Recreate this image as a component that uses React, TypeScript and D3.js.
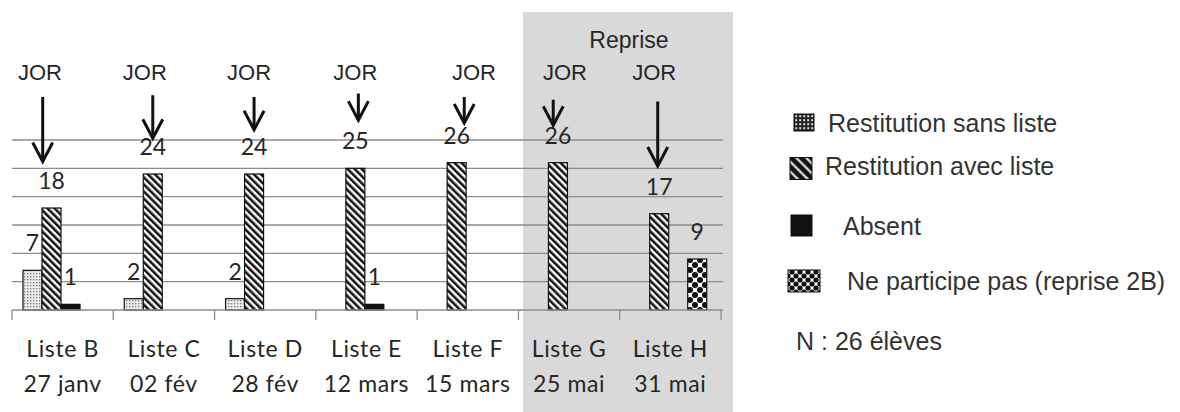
import React from 'react';
import * as d3 from 'd3';

const categories = ['Liste B', 'Liste C', 'Liste D', 'Liste E', 'Liste F', 'Liste G', 'Liste H'];
const dates = ['27 janv', '02 fév', '28 fév', '12 mars', '15 mars', '25 mai', '31 mai'];
const seriesKeys = ['sans', 'avec', 'absent', 'nepart'];
const seriesNames = ['Restitution sans liste', 'Restitution avec liste', 'Absent', 'Ne participe pas (reprise 2B)'];
const sansListe = [7, 2, 2, 0, 0, 0, 0];
const avecListe = [18, 24, 24, 25, 26, 26, 17];
const absent = [1, 0, 0, 1, 0, 0, 0];
const neParticipe = [0, 0, 0, 0, 0, 0, 9];
const yTicks = [5, 10, 15, 20, 25, 30];
// "JOR" annotation arrows, in data units (start of shaft, tip of arrow)
const arrowFrom = [37.6, 37.9, 37.6, 38.2, 37.6, 37.1, 36.8];
const arrowTo = [26.2, 30.3, 31.8, 33.5, 33.0, 32.6, 25.4];
const repriseCats = ['Liste G', 'Liste H'];
const noteText = 'N : 26 élèves';

// annotation offsets (px) relative to the "avec liste" bar centre
const arrowDx = [-8.8, 0, 0, 3, 7.6, -4.7, -1.5];
const jorDx = [-11.5, -8, -5, 0, 17.3, 7, -5];

const W = 1180;
const H = 412;
const LEFT = 12;
const RIGHT = 721;
const BASE = 310;
const TOP30 = 140;

const labelFont = 'Lato, "Open Sans", sans-serif';
const arialFont = '"Liberation Sans", Arial, sans-serif';

export default function App() {
  const x = d3.scaleBand<string>().domain(categories).range([LEFT, RIGHT]).paddingInner(0).paddingOuter(0);
  const step = x.step();
  const x1 = d3.scaleBand<string>().domain(seriesKeys).range([11, 87]).paddingInner(0);
  const y = d3.scaleLinear().domain([0, 30]).range([BASE, TOP30]);
  const bw = x1.bandwidth();

  const values: Record<string, number[]> = {
    sans: sansListe,
    avec: avecListe,
    absent: absent,
    nepart: neParticipe,
  };
  const fills: Record<string, string> = {
    sans: 'url(#dots)',
    avec: 'url(#hatch)',
    absent: '#111',
    nepart: 'url(#rings)',
  };

  const gx0 = (x(repriseCats[0]) as number) + 4.5;
  const gx1 = (x(repriseCats[1]) as number) + step + 12;

  const bars: JSX.Element[] = [];
  const labels: JSX.Element[] = [];
  categories.forEach((c, i) => {
    seriesKeys.forEach((k) => {
      const v = values[k][i];
      if (!v) return;
      const bx = (x(c) as number) + (x1(k) as number);
      const top = y(v);
      bars.push(
        <rect key={`b-${c}-${k}`} x={bx} y={top} width={bw} height={BASE - top}
          fill={fills[k]} stroke="#111" strokeWidth={1.2} />
      );
      labels.push(
        <text key={`l-${c}-${k}`} x={bx + bw / 2} y={top - 19} textAnchor="middle"
          fontFamily={labelFont} fontSize={23} fill="#262626">{v}</text>
      );
    });
  });

  const arrows = categories.map((c, i) => {
    const cx = (x(c) as number) + (x1('avec') as number) + bw / 2;
    const ax = cx + arrowDx[i];
    const y0 = y(arrowFrom[i]);
    const y1 = y(arrowTo[i]);
    return (
      <g key={`a-${c}`}>
        <text x={cx + jorDx[i]} y={80} textAnchor="middle" fontFamily={arialFont} fontSize={22} fill="#262626">JOR</text>
        <line x1={ax} y1={y0} x2={ax} y2={y1} stroke="#111" strokeWidth={3} />
        <polyline points={`${ax - 10},${y1 - 19} ${ax},${y1} ${ax + 10},${y1 - 19}`}
          fill="none" stroke="#111" strokeWidth={3} strokeLinejoin="miter" />
      </g>
    );
  });

  const ticks = d3.range(categories.length + 1).map((i) => LEFT + i * step);

  const legendRows = [
    { y: 131.7, sx: 794, sy: 114, sw: 20, sh: 17, fill: 'url(#legdots)', tx: 828 },
    { y: 175, sx: 790, sy: 157.5, sw: 22, sh: 22, fill: 'url(#leghatch)', tx: 825 },
    { y: 235, sx: 791, sy: 215, sw: 21, sh: 21, fill: '#111', tx: 843 },
    { y: 290, sx: 788, sy: 270, sw: 32, sh: 22, fill: 'url(#legrings)', tx: 847 },
  ];

  return (
    <svg width={W} height={H} style={{ position: 'absolute', left: 0, top: 0, background: '#fff' }}>
      <defs>
        <pattern id="hatch" patternUnits="userSpaceOnUse" width={5} height={5} patternTransform="rotate(-45)">
          <rect width={5} height={5} fill="#fff" />
          <line x1={1.25} y1={0} x2={1.25} y2={5} stroke="#111" strokeWidth={2.6} />
        </pattern>
        <pattern id="leghatch" patternUnits="userSpaceOnUse" width={7} height={7} patternTransform="rotate(-45)">
          <rect width={7} height={7} fill="#111" />
          <line x1={3.5} y1={0} x2={3.5} y2={7} stroke="#fff" strokeWidth={2} />
        </pattern>
        <pattern id="dots" patternUnits="userSpaceOnUse" width={3} height={3}>
          <rect width={3} height={3} fill="#ececec" />
          <rect x={0} y={0} width={1.3} height={1.3} fill="#777" />
        </pattern>
        <pattern id="legdots" patternUnits="userSpaceOnUse" width={4} height={4} x={794} y={114}>
          <rect width={4} height={4} fill="#222" />
          <rect x={1.2} y={1.2} width={2} height={2} fill="#ddd" />
        </pattern>
        <pattern id="rings" patternUnits="userSpaceOnUse" width={10} height={10} x={0} y={0}>
          <rect width={10} height={10} fill="#fff" />
          <circle cx={0} cy={0} r={3} fill="#111" />
          <circle cx={10} cy={0} r={3} fill="#111" />
          <circle cx={0} cy={10} r={3} fill="#111" />
          <circle cx={10} cy={10} r={3} fill="#111" />
          <circle cx={5} cy={5} r={3} fill="#111" />
        </pattern>
        <pattern id="legrings" patternUnits="userSpaceOnUse" width={8} height={8}>
          <rect width={8} height={8} fill="#fff" />
          <circle cx={0} cy={0} r={2.6} fill="#111" />
          <circle cx={8} cy={0} r={2.6} fill="#111" />
          <circle cx={0} cy={8} r={2.6} fill="#111" />
          <circle cx={8} cy={8} r={2.6} fill="#111" />
          <circle cx={4} cy={4} r={2.6} fill="#111" />
        </pattern>
      </defs>

      {/* Reprise shaded area */}
      <rect x={gx0} y={12} width={gx1 - gx0} height={H - 12} fill="#d9d9d9" />
      <text x={(gx0 + gx1) / 2 + 1} y={48} textAnchor="middle" fontFamily={arialFont} fontSize={23} fill="#262626">Reprise</text>

      {/* gridlines */}
      {yTicks.map((t) => (
        <line key={`g-${t}`} x1={LEFT} x2={RIGHT + 2} y1={y(t)} y2={y(t)} stroke="#8c8c8c" strokeWidth={1.3} />
      ))}

      {bars}

      {/* axis */}
      <line x1={LEFT} x2={RIGHT + 2} y1={BASE} y2={BASE} stroke="#8c8c8c" strokeWidth={1.5} />
      {ticks.map((t, i) => (
        <line key={`t-${i}`} x1={t} x2={t} y1={BASE} y2={BASE + 10} stroke="#8c8c8c" strokeWidth={1.3} />
      ))}
      {categories.map((c, i) => (
        <g key={`c-${c}`}>
          <text x={(x(c) as number) + step / 2} y={357} textAnchor="middle" fontFamily={labelFont} fontSize={23} letterSpacing={0.6} fill="#262626">{c}</text>
          <text x={(x(c) as number) + step / 2} y={392} textAnchor="middle" fontFamily={labelFont} fontSize={23} letterSpacing={0.6} fill="#262626">{dates[i]}</text>
        </g>
      ))}

      {labels}
      {arrows}

      {/* legend */}
      {legendRows.map((r, i) => (
        <g key={`lg-${i}`}>
          <rect x={r.sx} y={r.sy} width={r.sw} height={r.sh} fill={r.fill} stroke="#111" strokeWidth={1} />
          <text x={r.tx} y={r.y} fontFamily={arialFont} fontSize={25} fill="#333">{seriesNames[i]}</text>
        </g>
      ))}
      <text x={796} y={350} fontFamily={arialFont} fontSize={25} fill="#333">{noteText}</text>
    </svg>
  );
}
